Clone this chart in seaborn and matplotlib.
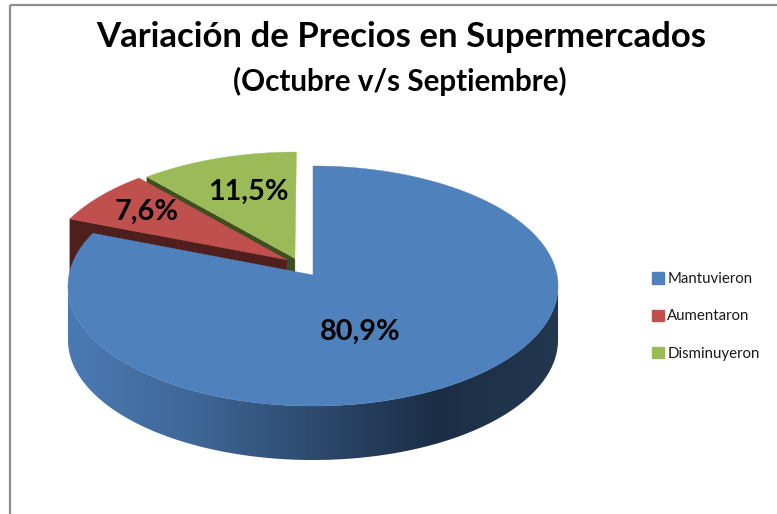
import numpy as np
import matplotlib
matplotlib.use("Agg")
import matplotlib.pyplot as plt
import seaborn as sns
from matplotlib.colors import ListedColormap
from matplotlib.patches import Patch, Polygon, Rectangle

# values
categories = ["Mantuvieron", "Aumentaron", "Disminuyeron"]
values = [80.9, 7.6, 11.5]

title = "Variación de Precios en Supermercados"
subtitle = "(Octubre v/s Septiembre)"

top_colors = {"Mantuvieron": "#4f81bd", "Aumentaron": "#c0504d", "Disminuyeron": "#9bbb59"}
wall_colors = {"Aumentaron": "#4f1f1e", "Disminuyeron": "#3f4d20"}
# how far a slice is pulled out, and towards which clock angle (degrees)
explode = {"Mantuvieron": 0.0, "Aumentaron": 0.17, "Disminuyeron": 0.16}
explode_dir = {"Mantuvieron": 0, "Aumentaron": 320, "Disminuyeron": 332}

sns.set_theme(style="white")
plt.rcParams["font.family"] = ["Lato", "DejaVu Sans"]

fig = plt.figure(figsize=(7.77, 5.14), dpi=100)
ax = fig.add_axes([0, 0, 1, 1])
ax.set_xlim(0, 777)
ax.set_ylim(514, 0)
ax.axis("off")

# perspective of the tilted disc
cx, cy = 313, 275
A, B, k = 244, 119, 0.0917
depth = 54


def project(u, v):
    w = 1 + k * v
    return cx + A * u / w, cy - B * v / w


# slice angles, clockwise from 12 o'clock
edges = np.cumsum([0] + values) / sum(values) * 2 * np.pi
slices = {}
for i, name in enumerate(categories):
    slices[name] = (edges[i], edges[i + 1])

# back to front: green, red, blue
for z, name in enumerate(["Disminuyeron", "Aumentaron", "Mantuvieron"]):
    start, end = slices[name]
    d = np.radians(explode_dir[name])
    du, dv = explode[name] * np.sin(d), explode[name] * np.cos(d)
    ts = np.linspace(start, end, 600)
    x, y = project(np.sin(ts) + du, np.cos(ts) + dv)
    px, py = project(du, dv)

    if name == "Mantuvieron":
        # curved wall with a left to right shading, only the rim facing the viewer
        shade = sns.blend_palette(["#4b7ab3", "#3f6899", "#2e4a6e", "#1b2e46", "#22384f"], 256)
        i0, i1 = np.argmax(x), np.argmin(x)
        xf, yf = x[i0:i1 + 1], y[i0:i1 + 1]
        wall = np.r_[np.c_[xf, yf], np.c_[xf, yf + depth][::-1]]
        clip = Polygon(wall, closed=True, transform=ax.transData, fc="none", ec="none")
        ax.add_patch(clip)
        im = ax.imshow(np.linspace(0, 1, 512)[None, :], cmap=ListedColormap(shade), aspect="auto",
                       extent=(cx - A - 3, cx + A + 3, 514, 0), zorder=z * 2 + 1)
        im.set_clip_path(clip)
        ax.set_xlim(0, 777)
        ax.set_ylim(514, 0)
    else:
        # cut face that looks to the viewer
        ex, ey = project(np.sin(start) + du, np.cos(start) + dv)
        ax.fill([px, ex, ex, px], [py, ey, ey + depth, py + depth],
                color=wall_colors[name], lw=0.3, zorder=z * 2 + 1)

    ax.fill(np.r_[px, x], np.r_[py, y], color=top_colors[name], lw=0.3, zorder=z * 2 + 2)

# percent labels
labels = [f"{v:.1f}%".replace(".", ",") for v in values]
ax.text(360, 332, labels[0], ha="center", va="center", fontsize=20.8, fontweight="bold", color="black", zorder=10)
ax.text(147, 212, labels[1], ha="center", va="center", fontsize=20.8, fontweight="bold", color="black", zorder=10)
ax.text(248, 192, labels[2], ha="center", va="center", fontsize=20.8, fontweight="bold", color="black", zorder=10)

# titles
ax.text(401, 37, title, ha="center", va="center", fontsize=25, fontweight="bold", color="black")
ax.text(400, 81, subtitle, ha="center", va="center", fontsize=21.3, fontweight="bold", color="black")

# chart frame, runs off the right and the bottom
ax.add_patch(Rectangle((10, 5), 900, 700, fill=False, ec="#8e8e8e", lw=1.6))

handles = [Patch(color=top_colors[c], label=c) for c in categories]
ax.legend(handles=handles, loc="center left", bbox_to_anchor=(644 / 777, 1 - 316.5 / 514),
          frameon=False, fontsize=10.8, labelspacing=1.55, handlelength=0.8, handleheight=0.8,
          handletextpad=0.25, borderpad=0, labelcolor="#1a1a1a")

plt.savefig("out.png", dpi=100)
